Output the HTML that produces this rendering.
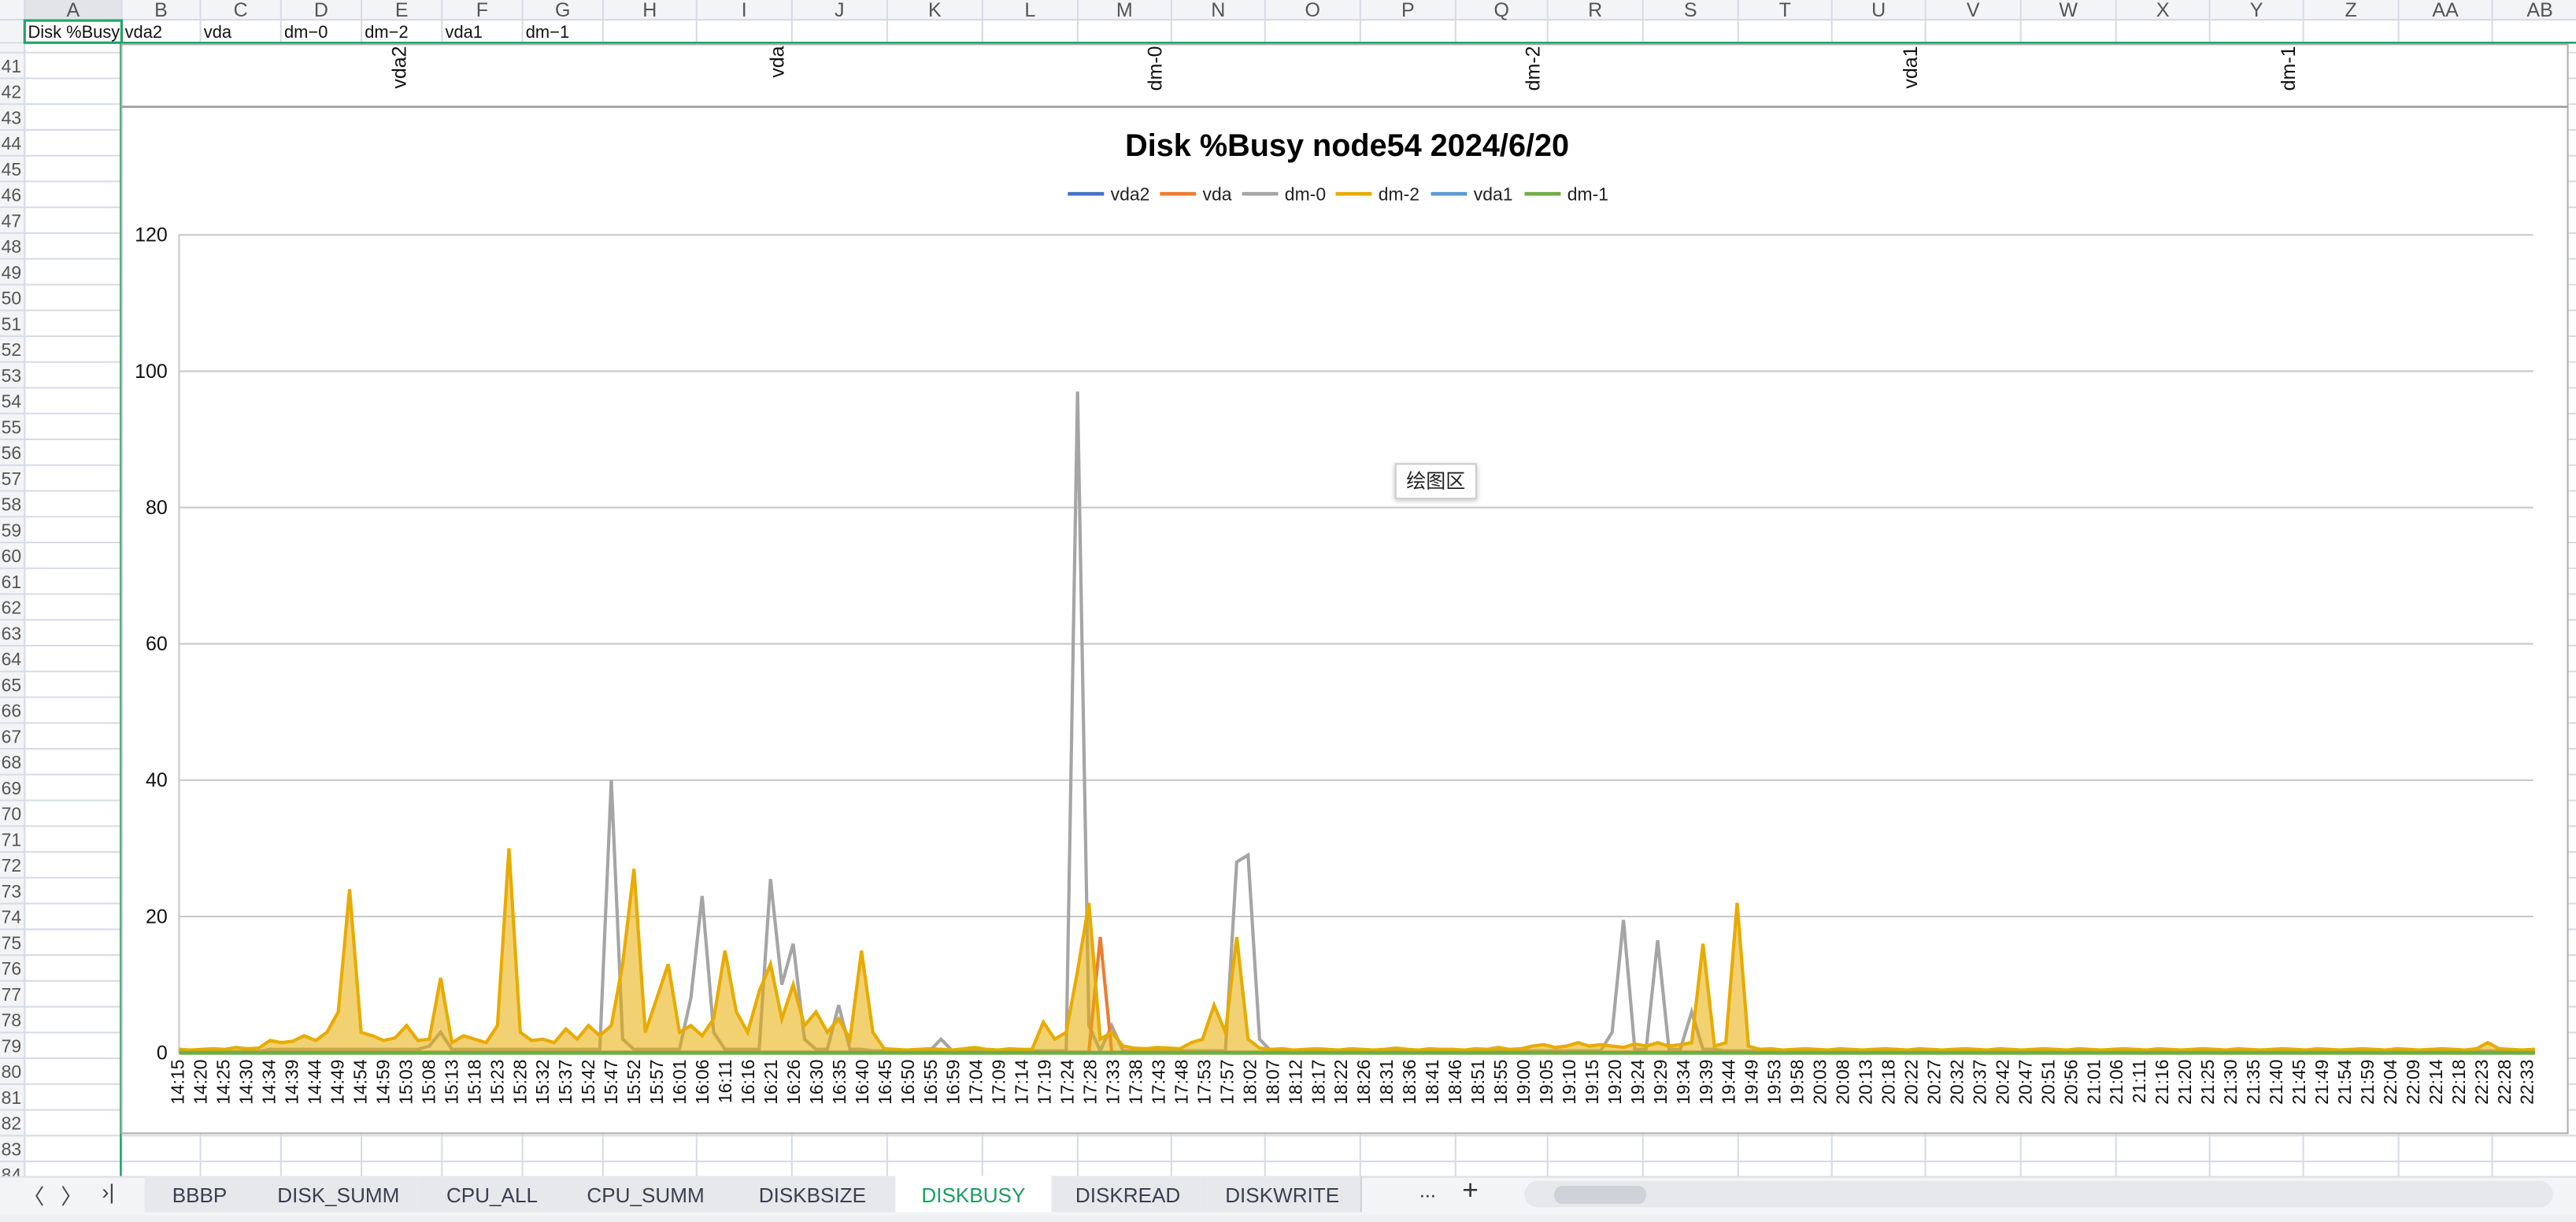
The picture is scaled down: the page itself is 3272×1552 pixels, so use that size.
<!DOCTYPE html>
<html><head><meta charset="utf-8"><style>
html,body{margin:0;padding:0;width:3272px;height:1552px;overflow:hidden;background:#fff;font-family:"Liberation Sans","Noto Sans CJK SC",sans-serif}
#root{position:absolute;left:0;top:0;width:1568px;height:744px;transform:scale(2.08673,2.08602);transform-origin:0 0;overflow:hidden;background:#fff}
.abs{position:absolute}
</style></head><body>
<div id="root">
<svg id="grid" class="abs" style="left:0;top:0" width="1568" height="744"></svg>
<svg id="chart" class="abs" style="left:0;top:0" width="1568" height="744"></svg>
<div class="abs" style="left:849px;top:282px;width:48px;height:20px;background:#fff;border:1px solid #ccc;box-shadow:0 1px 3px rgba(0,0,0,.25);font-size:12px;line-height:20px;text-align:center;color:#222">绘图区</div>
<div class="abs" style="left:0;top:716px;width:1568px;height:24px;background:#f3f4f6;border-top:1px solid #dcdfe4"></div>
<div class="abs" style="left:0;top:740px;width:1568px;height:4px;background:#eef0f2"></div>
<div id="tabs"></div>
</div>
<script>
const NS='http://www.w3.org/2000/svg';
function mk(parent,tag,attrs,text){const e=document.createElementNS(NS,tag);for(const k in attrs)e.setAttribute(k,attrs[k]);if(text!==undefined)e.textContent=text;parent.appendChild(e);return e;}
// ---------- sheet grid ----------
const g=document.getElementById('grid');
const colNames=['A','B','C','D','E','F','G','H','I','J','K','L','M','N','O','P','Q','R','S','T','U','V','W','X','Y','Z','AA','AB'];
const colEdges=[15,74,122,171,220,269,318,367,424,482,540,598,656,713,770,828,886,942,1000,1058,1115,1172,1230,1288,1345,1402,1460,1517,1575];
mk(g,'rect',{x:0,y:0,width:1568,height:12,fill:'#f3f4f6'});
mk(g,'rect',{x:0,y:0,width:15,height:716,fill:'#f3f4f6'});
mk(g,'rect',{x:15,y:0,width:59,height:12,fill:'#e2e4e8'});
mk(g,'line',{x1:0,x2:1568,y1:26,y2:26,stroke:'#d6dbe6'});
for(let r=0;r<46;r++){const y=32+r*15.7;mk(g,'line',{x1:0,x2:1568,y1:y,y2:y,stroke:'#d6dbe6','stroke-width':1});
 const t=mk(g,'text',{x:13,y:y+12,'font-size':11,fill:'#555','text-anchor':'end'},String(41+r));
 }
mk(g,'line',{x1:0,x2:1568,y1:12,y2:12,stroke:'#d6dbe6'});
for(let i=0;i<colNames.length;i++){const x=colEdges[i];mk(g,'line',{x1:x,x2:x,y1:0,y2:716,stroke:'#d6dbe6'});
 const t=mk(g,'text',{x:(x+colEdges[i+1])/2,y:10,'font-size':12,fill:'#555','text-anchor':'middle'},colNames[i]);
 }
const cellLabels=[[17,'Disk  %Busy'],[76,'vda2'],[124,'vda'],[173,'dm−0'],[222,'dm−2'],[271,'vda1'],[320,'dm−1']];
cellLabels.forEach(c=>{const t=mk(g,'text',{x:c[0],y:23,'font-size':10.5,fill:'#111'},c[1]);});
mk(g,'rect',{x:15,y:12.5,width:59,height:13.5,fill:'none',stroke:'#21a366','stroke-width':1.5});
mk(g,'line',{x1:74,x2:1568,y1:26,y2:26,stroke:'#21a366','stroke-width':1.2});
mk(g,'line',{x1:73.5,x2:73.5,y1:26,y2:716,stroke:'#21a366','stroke-width':1.2});
// ---------- chart ----------
const labels=['14:15','14:20','14:25','14:30','14:34','14:39','14:44','14:49','14:54','14:59','15:03','15:08','15:13','15:18','15:23','15:28','15:32','15:37','15:42','15:47','15:52','15:57','16:01','16:06','16:11','16:16','16:21','16:26','16:30','16:35','16:40','16:45','16:50','16:55','16:59','17:04','17:09','17:14','17:19','17:24','17:28','17:33','17:38','17:43','17:48','17:53','17:57','18:02','18:07','18:12','18:17','18:22','18:26','18:31','18:36','18:41','18:46','18:51','18:55','19:00','19:05','19:10','19:15','19:20','19:24','19:29','19:34','19:39','19:44','19:49','19:53','19:58','20:03','20:08','20:13','20:18','20:22','20:27','20:32','20:37','20:42','20:47','20:51','20:56','21:01','21:06','21:11','21:16','21:20','21:25','21:30','21:35','21:40','21:45','21:49','21:54','21:59','22:04','22:09','22:14','22:18','22:23','22:28','22:33'];
const yTicks=[0,20,40,60,80,100,120];
const seriesNames=['vda2','vda','dm-0','dm-2','vda1','dm-1'];
const seriesColors=['#4472C4','#ED7D31','#A5A5A5','#E8AB00','#5B9BD5','#70AD47'];
const dm2=[0.5,0.4,0.5,0.6,0.5,0.8,0.6,0.7,1.8,1.5,1.7,2.5,1.8,3,6,24,3,2.5,1.8,2.2,4,1.8,2,11,1.5,2.5,2,1.5,4,30,3,1.8,2,1.5,3.5,2,4,2.5,4,13,27,3,8,13,3,4,2.5,5,15,6,3,9,13,5,10,4,6,3,5,2,15,3,0.6,0.5,0.4,0.5,0.6,0.5,0.4,0.6,0.8,0.5,0.4,0.6,0.5,0.5,4.5,2,3,12,22,2,3,1,0.7,0.6,0.8,0.7,0.6,1.5,2,7,3,17,2,0.7,0.5,0.6,0.4,0.5,0.6,0.5,0.4,0.6,0.5,0.4,0.5,0.7,0.5,0.4,0.6,0.5,0.5,0.4,0.6,0.5,0.8,0.5,0.6,1,1.2,0.8,1,1.5,1,1.2,1,0.8,1.3,1,1.5,1,1.2,1.5,16,1,1.5,22,1,0.5,0.6,0.4,0.5,0.6,0.5,0.4,0.6,0.5,0.4,0.5,0.6,0.5,0.4,0.6,0.5,0.4,0.5,0.6,0.5,0.4,0.6,0.5,0.4,0.5,0.6,0.5,0.4,0.6,0.5,0.4,0.5,0.6,0.5,0.4,0.6,0.5,0.4,0.5,0.6,0.5,0.4,0.6,0.5,0.4,0.5,0.6,0.5,0.4,0.6,0.5,0.4,0.5,0.6,0.5,0.4,0.6,0.5,0.4,0.5,0.6,0.5,0.4,0.6,1.5,0.6,0.5,0.4,0.5,0.6];
const dm0=[0.2,0.2,0.2,0.2,0.2,0.2,0.2,0.2,0.5,0.5,0.5,0.5,0.5,0.5,0.5,0.5,0.5,0.5,0.5,0.5,0.5,0.5,1,3,0.5,0.5,0.5,0.5,0.5,0.5,0.5,0.5,0.5,0.5,0.5,0.5,0.5,0.5,40,2,0.5,0.5,0.5,0.5,0.5,8,23,3,0.5,0.5,0.5,0.5,25.5,10,16,2,0.5,0.5,7,0.5,0.5,0.3,0.3,0.3,0.3,0.3,0.3,2,0.3,0.3,0.3,0.3,0.3,0.3,0.3,0.3,0.3,0.3,0.3,97,4,0.3,4,0.3,0.3,0.3,0.3,0.3,0.3,0.3,0.3,0.3,0.3,28,29,2,0.3,0.3,0.3,0.3,0.3,0.3,0.3,0.3,0.3,0.3,0.3,0.3,0.3,0.3,0.3,0.3,0.3,0.3,0.3,0.3,0.3,0.3,0.3,0.3,0.3,0.3,0.3,0.3,0.3,0.3,3,19.5,0.5,0.5,16.5,0.5,0.5,6,0.5,0.5,0.3,0.3,0.3,0.3,0.3,0.3,0.3,0.3,0.3,0.3,0.3,0.3,0.3,0.3,0.3,0.3,0.3,0.3,0.3,0.3,0.3,0.3,0.3,0.3,0.3,0.3,0.3,0.3,0.3,0.3,0.3,0.3,0.3,0.3,0.3,0.3,0.3,0.3,0.3,0.3,0.3,0.3,0.3,0.3,0.3,0.3,0.3,0.3,0.3,0.3,0.3,0.3,0.3,0.3,0.3,0.3,0.3,0.3,0.3,0.3,0.3,0.3,0.3,0.3,0.3,0.3,0.3,0.3,0.3,0.3,0.3,0.3,0.3,0.3,0.3,0.3];
const vdaSpikeIndex=81, vdaSpikeValue=17;
const c=document.getElementById('chart');
mk(c,'rect',{x:74,y:27,width:1489,height:663,fill:'#fff',stroke:'#b0b0b0','stroke-width':1});
mk(c,'line',{x1:74,x2:1563,y1:65,y2:65,stroke:'#999','stroke-width':1.2});
const defs=mk(c,'defs',{});const cp=mk(defs,'clipPath',{id:'plotclip'});mk(cp,'rect',{x:108,y:100,width:1435,height:545});
const hdrX=[243,473,703,933,1163,1393],hdrN=['vda2','vda','dm-0','dm-2','vda1','dm-1'];
hdrX.forEach((x,i)=>{const t=mk(c,'text',{x:x+4,y:28,'font-size':12,fill:'#111',transform:`rotate(-90 ${x+4} 28)`,'text-anchor':'end'},hdrN[i]);});
const title=mk(c,'text',{x:820,y:95,'font-size':19,'font-weight':'bold',fill:'#000','text-anchor':'middle'},'Disk %Busy node54  2024/6/20');

const legX=[650,706,756,813,871,928];
seriesNames.forEach((n,i)=>{const lg=mk(c,'g',{});
 mk(lg,'line',{x1:legX[i],x2:legX[i]+22,y1:118,y2:118,stroke:seriesColors[i],'stroke-width':2.2});
 mk(lg,'text',{x:legX[i]+26,y:122,'font-size':11,fill:'#222'},n);});
const X0=109,X1=1542,Y0=641,Y1=143,SLOTS=207;
const yS=v=>Y0-(v/120)*(Y0-Y1);
const xL=i=>108+i*(1538-108)/(labels.length-1);
const xP=i=>X0+i*(X1-X0)/SLOTS;
yTicks.forEach(v=>{mk(c,'line',{x1:X0,x2:X1,y1:yS(v),y2:yS(v),stroke:'#c8c8c8','stroke-width':1});
 const t=mk(c,'text',{x:102,y:yS(v)+4,'font-size':12,fill:'#111','text-anchor':'end'},String(v));});
mk(c,'line',{x1:X0,x2:X0,y1:Y1,y2:Y0,stroke:'#c8c8c8'});
labels.forEach((l,i)=>{const x=xL(i)+4;const t=mk(c,'text',{x:x,y:645,'font-size':11,fill:'#111',transform:`rotate(-90 ${x} 645)`,'text-anchor':'end'},l);});
const plot=mk(c,'g',{'clip-path':'url(#plotclip)'});
function series(vals,col,name,w,fill){const pts=vals.map((v,i)=>xP(i).toFixed(1)+','+yS(v).toFixed(1));
 if(fill){const poly=mk(plot,'polygon',{points:xP(0)+','+Y0+' '+pts.join(' ')+' '+xP(vals.length-1)+','+Y0,fill:col,'fill-opacity':0.55,stroke:'none'});
  }
 const p=mk(plot,'polyline',{points:pts.join(' '),fill:'none',stroke:col,'stroke-width':w,'stroke-linejoin':'miter'});}
const zeros=dm2.map(()=>0);
const vdaVals=dm2.map((_,i)=>i===vdaSpikeIndex?vdaSpikeValue:0.1);
series(dm0,seriesColors[2],'dm-0',2);
series(vdaVals,seriesColors[1],'vda',2);
series(dm2,seriesColors[3],'dm-2',2,true);
series(zeros,seriesColors[0],'vda2',2);
series(zeros,seriesColors[4],'vda1',2);
series(zeros,seriesColors[5],'dm-1',2.4);
// ---------- tabs ----------
const tb=document.getElementById('tabs');
const nav=[[14,'〈'],[37,'〉'],[62,'›|']];
nav.forEach(n=>{const d=document.createElement('div');d.className='abs';d.style.cssText=`left:${n[0]}px;top:718px;font-size:13px;color:#444`;d.textContent=n[1];tb.appendChild(d);});
const tabs=[['BBBP',88,155],['DISK_SUMM',155,257],['CPU_ALL',257,342],['CPU_SUMM',342,444],['DISKBSIZE',444,545],['DISKBUSY',545,640],['DISKREAD',640,733],['DISKWRITE',733,828]];
tabs.forEach(t=>{const d=document.createElement('div');d.className='abs';const act=t[0]==='DISKBUSY';
 d.style.cssText=`left:${t[1]}px;top:716px;width:${t[2]-t[1]}px;height:22px;line-height:24px;text-align:center;font-size:12.5px;color:${act?'#1a9e5f':'#3a4050'};background:${act?'#fff':'#e6e8ec'};border-right:1px solid #d0d3d8`;
 d.textContent=t[0];tb.appendChild(d);});
const more=document.createElement('div');more.className='abs';more.style.cssText='left:864px;top:718px;font-size:12px;color:#333';more.textContent='...';
tb.appendChild(more);
const plus=document.createElement('div');plus.className='abs';plus.style.cssText='left:890px;top:715px;font-size:17px;color:#333';plus.textContent='+';
tb.appendChild(plus);
const sb=document.createElement('div');sb.className='abs';sb.style.cssText='left:928px;top:719px;width:626px;height:16px;background:#e6e8ec;border-radius:8px';
tb.appendChild(sb);
const th=document.createElement('div');th.className='abs';th.style.cssText='left:946px;top:722px;width:56px;height:11px;background:#cfd2d8;border-radius:5px';
tb.appendChild(th);
</script>
</body></html>
